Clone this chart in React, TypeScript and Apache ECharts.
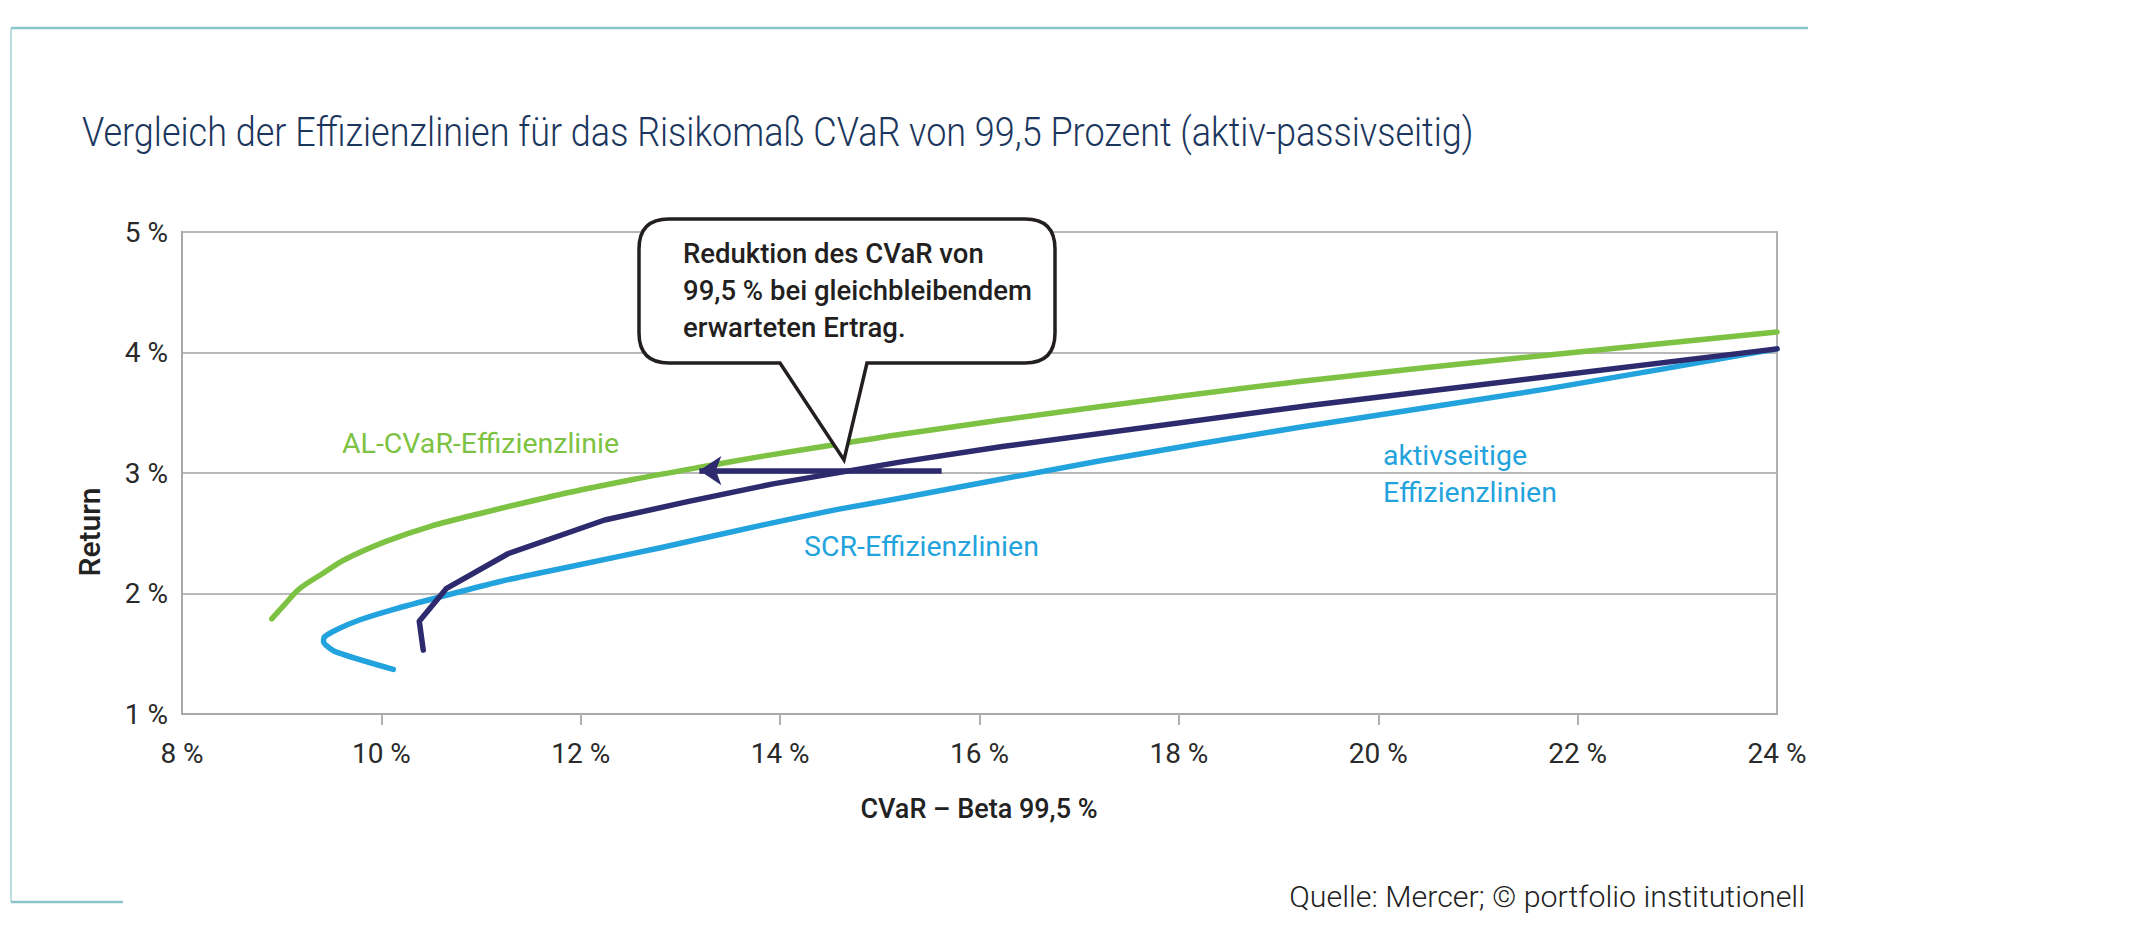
import React, { useEffect, useRef } from "react";
import * as echarts from "echarts";

// ---- data ----
const xTickValues = [10, 12, 14, 16, 18, 20, 22];
const titleText = "Vergleich der Effizienzlinien für das Risikomaß CVaR von 99,5 Prozent (aktiv-passivseitig)";
const sourceText = "Quelle: Mercer; © portfolio institutionell";
const calloutLines = ["Reduktion des CVaR von", "99,5 % bei gleichbleibendem", "erwarteten Ertrag."];

// AL-CVaR-Effizienzlinie (CVaR %, Return %)
const alCvar: number[][] = [
  [8.9, 1.79], [9.02, 1.9], [9.18, 2.04], [9.4, 2.16], [9.63, 2.28], [10.04, 2.43],
  [10.5, 2.56], [11.02, 2.67], [11.78, 2.82], [12.55, 2.95], [13.21, 3.05], [13.83, 3.14],
  [14.59, 3.24], [15.2, 3.32], [17.2, 3.55], [19.21, 3.76], [21.71, 3.98], [24, 4.17],
];
// aktivseitige CVaR-Effizienzlinie
const aktivCvar: number[][] = [
  [10.42, 1.53], [10.38, 1.77], [10.65, 2.04], [11.27, 2.33], [12.24, 2.61], [13.06, 2.76],
  [13.93, 2.91], [15.2, 3.09], [16.23, 3.22], [19.31, 3.56], [24, 4.03],
];
// SCR-Effizienzlinie
const scr: number[][] = [
  [10.12, 1.37], [9.53, 1.52], [9.42, 1.6], [9.43, 1.64], [9.55, 1.7], [9.78, 1.78],
  [10.09, 1.86], [10.49, 1.95], [11.19, 2.1], [11.88, 2.22], [12.8, 2.38], [13.83, 2.57],
  [14.59, 2.7], [15.2, 2.79], [17.2, 3.1], [19.21, 3.38], [21.71, 3.7], [24, 4.03],
];
const arrowFrom = [15.62, 3.02];
const arrowTo = [13.19, 3.02];

const GREEN = "#7dc242";
const NAVY = "#2d2a6e";
const BLUE = "#23a3dd";
const DIN = "Roboto, 'Noto Sans', sans-serif";

const CALLOUT_D =
  "M 669 219 H 1025 Q 1055 219 1055 249 V 333 Q 1055 363 1025 363 H 867 L 844 460 L 780 363 H 669 Q 639 363 639 333 V 249 Q 639 219 669 219 Z";

let registered = false;
function ensureShapes() {
  if (registered) return;
  echarts.graphic.registerShape("callout", echarts.graphic.extendPath(CALLOUT_D, {}));
  registered = true;
}

function fitScale(text: string, font: string, target: number): number {
  const ctx = document.createElement("canvas").getContext("2d");
  if (!ctx) return 1;
  ctx.font = font;
  const w = ctx.measureText(text).width;
  return w > 0 ? target / w : 1;
}

export default function App() {
  const ref = useRef<HTMLDivElement>(null);
  useEffect(() => {
    document.body.style.margin = "0";
    ensureShapes();
    const chart = echarts.init(ref.current!, null, { renderer: "svg" });
    const lineStyle = (color: string) => ({ color, width: 5.5, cap: "round", join: "round" });
    const titleScale = fitScale(titleText, "300 40px Roboto", 1392);
    const sourceScale = fitScale(sourceText, "300 30px Roboto", 516);
    chart.setOption({
      animation: false,
      backgroundColor: "#ffffff",
      grid: { left: 182, right: 363, top: 232, bottom: 223, show: true, borderColor: "#b0b0b0", borderWidth: 2 },
      xAxis: {
        type: "value",
        min: 8,
        max: 24,
        interval: 2,
        axisLine: { show: true, lineStyle: { color: "#a8a8a8", width: 2 } },
        axisTick: { show: true, customValues: xTickValues, length: 11, lineStyle: { color: "#b0b0b0", width: 2 } },
        axisLabel: { margin: 25, fontSize: 28, fontFamily: DIN, color: "#2a2a2a", formatter: (v: number) => `${v} %` },
        splitLine: { show: false },
      },
      yAxis: {
        type: "value",
        min: 1,
        max: 5,
        interval: 1,
        axisLine: { show: true, lineStyle: { color: "#a8a8a8", width: 2 } },
        axisTick: { show: false },
        axisLabel: { margin: 14, fontSize: 28, fontFamily: DIN, color: "#2a2a2a", formatter: (v: number) => `${v} %` },
        splitLine: { show: true, lineStyle: { color: "#b8b8b8", width: 2 } },
      },
      series: [
        { name: "AL-CVaR-Effizienzlinie", type: "line", data: alCvar, smooth: 0.3, showSymbol: false, lineStyle: lineStyle(GREEN), z: 3 },
        { name: "SCR-Effizienzlinien", type: "line", data: scr, smooth: 0.2, showSymbol: false, lineStyle: lineStyle(BLUE), z: 3 },
        { name: "aktivseitige Effizienzlinie", type: "line", data: aktivCvar, showSymbol: false, lineStyle: lineStyle(NAVY), z: 4 },
        {
          type: "lines",
          coordinateSystem: "cartesian2d",
          symbol: ["none", "arrow"],
          symbolSize: 22,
          lineStyle: { color: NAVY, width: 5.5, opacity: 1 },
          data: [{ coords: [arrowFrom, arrowTo] }],
          z: 5,
        },
      ],
      graphic: [
        { type: "line", shape: { x1: 11, y1: 28, x2: 1808, y2: 28 }, style: { stroke: "#8cc4cb", lineWidth: 2.5 } },
        { type: "line", shape: { x1: 11, y1: 28, x2: 11, y2: 902 }, style: { stroke: "#a6d2d7", lineWidth: 1.5 } },
        { type: "line", shape: { x1: 11, y1: 902, x2: 123, y2: 902 }, style: { stroke: "#8cc4cb", lineWidth: 2.5 } },
        {
          type: "text", x: 82, y: 132, scaleX: titleScale,
          style: { text: titleText, fontSize: 40, fontWeight: 300, fontFamily: "Roboto", fill: "#1b365d", align: "left", verticalAlign: "middle" },
        },
        {
          type: "text", x: 89, y: 532, rotation: Math.PI / 2,
          style: { text: "Return", fontSize: 30, fontWeight: 500, fontFamily: DIN, fill: "#222", align: "center", verticalAlign: "middle" },
        },
        {
          type: "text", x: 979, y: 809,
          style: { text: "CVaR – Beta 99,5 %", fontSize: 27, fontWeight: 500, fontFamily: DIN, fill: "#222", align: "center", verticalAlign: "middle" },
        },
        { type: "callout", x: 0, y: 0, z: 100, style: { fill: "#ffffff", stroke: "#231f20", lineWidth: 3.5 } },
        ...calloutLines.map((t, i) => ({
          type: "text", x: 683, y: 253 + i * 37.2, z: 101,
          style: { text: t, fontSize: 27.5, fontWeight: 500, fontFamily: DIN, fill: "#231f20", align: "left", verticalAlign: "middle" },
        })),
        {
          type: "text", x: 342, y: 443, z: 101,
          style: { text: "AL-CVaR-Effizienzlinie", fontSize: 28.5, fontFamily: DIN, fill: GREEN, align: "left", verticalAlign: "middle" },
        },
        {
          type: "text", x: 804, y: 546, z: 101,
          style: { text: "SCR-Effizienzlinien", fontSize: 28.5, fontFamily: DIN, fill: BLUE, align: "left", verticalAlign: "middle" },
        },
        {
          type: "text", x: 1383, y: 455, z: 101,
          style: { text: "aktivseitige", fontSize: 28.5, fontFamily: DIN, fill: BLUE, align: "left", verticalAlign: "middle" },
        },
        {
          type: "text", x: 1383, y: 492, z: 101,
          style: { text: "Effizienzlinien", fontSize: 28.5, fontFamily: DIN, fill: BLUE, align: "left", verticalAlign: "middle" },
        },
        {
          type: "text", x: 1805, y: 897, scaleX: sourceScale,
          style: { text: sourceText, fontSize: 30, fontWeight: 300, fontFamily: "Roboto", fill: "#222", align: "right", verticalAlign: "middle" },
        },
      ],
    });
    return () => chart.dispose();
  }, []);
  return <div ref={ref} style={{ width: 2140, height: 937 }} />;
}
